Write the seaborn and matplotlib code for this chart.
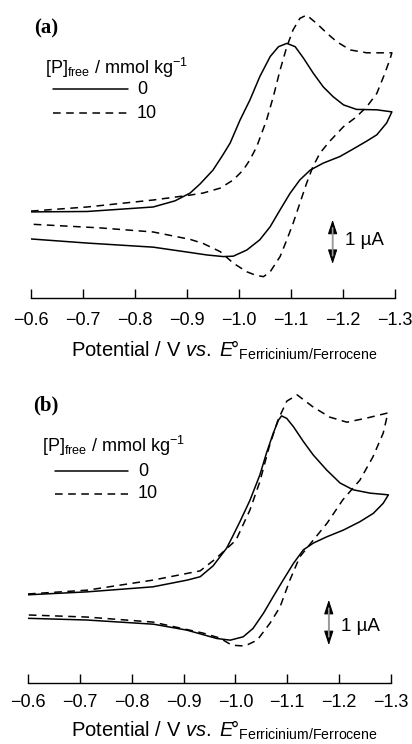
import numpy as np
import pandas as pd
import matplotlib
matplotlib.use("Agg")
import matplotlib.pyplot as plt
import seaborn as sns

# ---------------- data (potential in V, current in uA, arbitrary offset) -----------
# Panel (a) -- 0 mmol/kg (forward scan then reverse scan)
a_e0 = [-0.600, -0.708, -0.835, -0.877, -0.906, -0.925, -0.950, -0.969, -0.983, -1.002,
        -1.021, -1.040, -1.060, -1.076, -1.092, -1.108, -1.124, -1.143, -1.162, -1.181,
        -1.201, -1.226, -1.265, -1.294,
        -1.284, -1.265, -1.246, -1.219, -1.194, -1.162, -1.137, -1.117, -1.098, -1.079,
        -1.060, -1.040, -1.015, -0.989, -0.970, -0.938, -0.906, -0.835, -0.708, -0.600]
a_i0 = [2.10, 2.11, 2.22, 2.37, 2.56, 2.78, 3.12, 3.49, 3.78, 4.34,
        4.83, 5.40, 5.89, 6.13, 6.21, 6.13, 5.85, 5.48, 5.15, 4.91,
        4.71, 4.60, 4.59, 4.54,
        4.27, 3.98, 3.83, 3.63, 3.45, 3.29, 3.12, 2.88, 2.55, 2.15,
        1.74, 1.42, 1.17, 1.02, 1.01, 1.05, 1.11, 1.24, 1.34, 1.44]
# Panel (a) -- 10 mmol/kg
a_e10 = [-0.600, -0.708, -0.835, -0.906, -0.931, -0.964, -0.989, -1.008, -1.021, -1.034,
         -1.053, -1.066, -1.079, -1.092, -1.104, -1.117, -1.130, -1.149, -1.169, -1.188,
         -1.214, -1.246, -1.294,
         -1.290, -1.278, -1.265, -1.246, -1.226, -1.201, -1.175, -1.156, -1.142, -1.130,
         -1.117, -1.104, -1.092, -1.079, -1.060, -1.047, -1.031, -1.015, -0.989, -0.964,
         -0.931, -0.906, -0.835, -0.733, -0.600]
a_i10 = [2.12, 2.22, 2.39, 2.51, 2.56, 2.68, 2.88, 3.12, 3.37, 3.69,
         4.34, 4.91, 5.56, 6.13, 6.54, 6.82, 6.90, 6.70, 6.46, 6.25,
         6.05, 5.98, 5.98,
         5.81, 5.40, 4.99, 4.67, 4.42, 4.18, 3.83, 3.54, 3.20, 2.80,
         2.31, 1.82, 1.42, 1.01, 0.64, 0.52, 0.56, 0.64, 0.85, 1.13,
         1.33, 1.43, 1.61, 1.71, 1.80]

# Panel (b) -- 0 mmol/kg
b_e0 = [-0.600, -0.714, -0.841, -0.907, -0.932, -0.957, -0.983, -0.995, -1.009, -1.028,
        -1.047, -1.060, -1.073, -1.083, -1.089, -1.099, -1.112, -1.131, -1.150, -1.176,
        -1.202, -1.227, -1.260, -1.295,
        -1.285, -1.266, -1.240, -1.208, -1.176, -1.150, -1.131, -1.112, -1.092, -1.073,
        -1.054, -1.034, -1.015, -0.990, -0.964, -0.906, -0.842, -0.713, -0.600]
b_i0 = [2.10, 2.17, 2.29, 2.45, 2.53, 2.79, 3.21, 3.50, 3.85, 4.35,
        4.95, 5.48, 5.95, 6.26, 6.36, 6.30, 6.10, 5.75, 5.43, 5.07,
        4.76, 4.60, 4.52, 4.48,
        4.28, 4.04, 3.84, 3.64, 3.48, 3.33, 3.17, 2.85, 2.45, 2.06,
        1.66, 1.30, 1.10, 1.02, 1.06, 1.26, 1.40, 1.50, 1.54]
# Panel (b) -- 10 mmol/kg
b_e10 = [-0.600, -0.714, -0.841, -0.932, -0.961, -1.001, -1.028, -1.047, -1.065, -1.082, -1.099,
         -1.119, -1.150, -1.182, -1.215, -1.254, -1.294,
         -1.285, -1.265, -1.240, -1.207, -1.177, -1.150, -1.124, -1.105, -1.086, -1.067,
         -1.042, -1.018, -0.993, -0.970, -0.937, -0.841, -0.714, -0.600]
b_i10 = [2.12, 2.21, 2.45, 2.67, 2.95, 3.40, 4.12, 4.79, 5.62, 6.26, 6.71,
         6.86, 6.57, 6.33, 6.21, 6.31, 6.43,
         5.95, 5.38, 4.83, 4.36, 3.81, 3.40, 3.00, 2.45, 1.81, 1.43,
         1.02, 0.88, 0.90, 1.07, 1.19, 1.45, 1.57, 1.62]

tick_vals = [-0.6, -0.7, -0.8, -0.9, -1.0, -1.1, -1.2, -1.3]
tick_labels = ["\u22120.6", "\u22120.7", "\u22120.8", "\u22120.9", "\u22121.0", "\u22121.1", "\u22121.2", "\u22121.3"]
conc_labels = ["0", "10"]
legend_title = r"[P]$_{\rm free}$ / mmol kg$^{-1}$"
xlabel = r"Potential / V $\it{vs.}$ $\it{E}\!$°$_{\rm Ferricinium/Ferrocene}$"

# ---------------- style ----------------
sns.set_theme(style="white")
plt.rcParams["font.family"] = ["Liberation Sans", "DejaVu Sans"]
plt.rcParams["mathtext.fontset"] = "custom"
plt.rcParams["mathtext.rm"] = "Liberation Sans"
plt.rcParams["mathtext.it"] = "Liberation Sans:italic"
plt.rcParams["mathtext.bf"] = "Liberation Sans:bold"

W, H = 412, 744
fig = plt.figure(figsize=(W / 100, H / 100), dpi=100)

def fx(px):
    return px / W

def fy(py):
    return 1 - py / H

DASH = (0, (5, 3.6))
LW = 1.1

panels = [
    dict(name="(a)", left=31, right=395, bottom=298, top=8, ppu=41.0,
         curves=[(a_e0, a_i0, "-"), (a_e10, a_i10, DASH)],
         label_xy=(34, 28), title_xy=(45, 68), rows_y=(89, 113), line_x=(53, 128), text_x=137,
         bar=(-1.18, 0.83), bar_text=(-1.203, 1.41), xlab_y=350, tick_pad=10),
    dict(name="(b)", left=28, right=391, bottom=683, top=385, ppu=42.0,
         curves=[(b_e0, b_i0, "-"), (b_e10, b_i10, DASH)],
         label_xy=(33, 405), title_xy=(42, 446), rows_y=(471, 494), line_x=(55, 128), text_x=138,
         bar=(-1.18, 0.90), bar_text=(-1.203, 1.34), xlab_y=730, tick_pad=8),
]

for p in panels:
    axh = p["bottom"] - p["top"]
    ax = fig.add_axes([fx(p["left"]), fy(p["bottom"]), fx(p["right"] - p["left"]), axh / H])
    for (e, i, ls), lab in zip(p["curves"], conc_labels):
        df = pd.DataFrame({"E": e, "I": i})
        sns.lineplot(data=df, x="E", y="I", sort=False, estimator=None, ax=ax,
                     color="black", linewidth=LW)
        ax.lines[-1].set_linestyle(ls)
    ax.set_xlim(-0.6, -1.3)
    ax.set_ylim(0, axh / p["ppu"])
    ax.set_xticks(tick_vals)
    ax.set_xticklabels(tick_labels, fontsize=13)
    ax.set_yticks([])
    for s in ["left", "right", "top"]:
        ax.spines[s].set_visible(False)
    ax.spines["bottom"].set_color("black")
    ax.spines["bottom"].set_linewidth(1.0)
    ax.tick_params(axis="x", direction="in", length=6.5, width=1.0, color="black",
                   bottom=True, pad=p["tick_pad"], labelcolor="black")
    ax.set_xlabel(xlabel, fontsize=14.5, color="black", va="center")
    ax.xaxis.set_label_coords((224 - p["left"]) / (p["right"] - p["left"]),
                              -(p["xlab_y"] - p["bottom"]) / axh)
    ax.set_ylabel("")
    ax.patch.set_alpha(0)

    # scale bar (1 uA)
    bx, by = p["bar"]
    ax.annotate("", xy=(bx, by), xytext=(bx, by + 1.08),
                arrowprops=dict(arrowstyle="<|-|>,head_length=0.55,head_width=0.18",
                                color="black", lw=0.8, mutation_scale=16,
                                shrinkA=0, shrinkB=0))
    ax.annotate("", xy=(bx, by + 0.2), xytext=(bx, by + 0.88),
                arrowprops=dict(arrowstyle="-", color="0.6", lw=1.2,
                                shrinkA=0, shrinkB=0))
    ax.text(p["bar_text"][0], p["bar_text"][1], "1 \u00b5A", fontsize=13.5,
            va="center", ha="left", color="black")

    # panel label
    fig.text(fx(p["label_xy"][0]), fy(p["label_xy"][1]), p["name"],
             fontsize=15, fontweight="bold", family="Liberation Serif",
             va="center", ha="left", color="black")

    # legend (drawn manually to keep the original indentation)
    fig.text(fx(p["title_xy"][0]), fy(p["title_xy"][1]), legend_title, fontsize=13,
             va="center", ha="left", color="black")
    for ls, ry, lab in zip(["-", DASH], p["rows_y"], conc_labels):
        fig.add_artist(plt.Line2D([fx(p["line_x"][0]), fx(p["line_x"][1])], [fy(ry), fy(ry)],
                                  transform=fig.transFigure, color="black", lw=LW,
                                  linestyle=ls))
        fig.text(fx(p["text_x"]), fy(ry), lab, fontsize=13, va="center", ha="left",
                 color="black")

fig.savefig("out.png", dpi=100)
